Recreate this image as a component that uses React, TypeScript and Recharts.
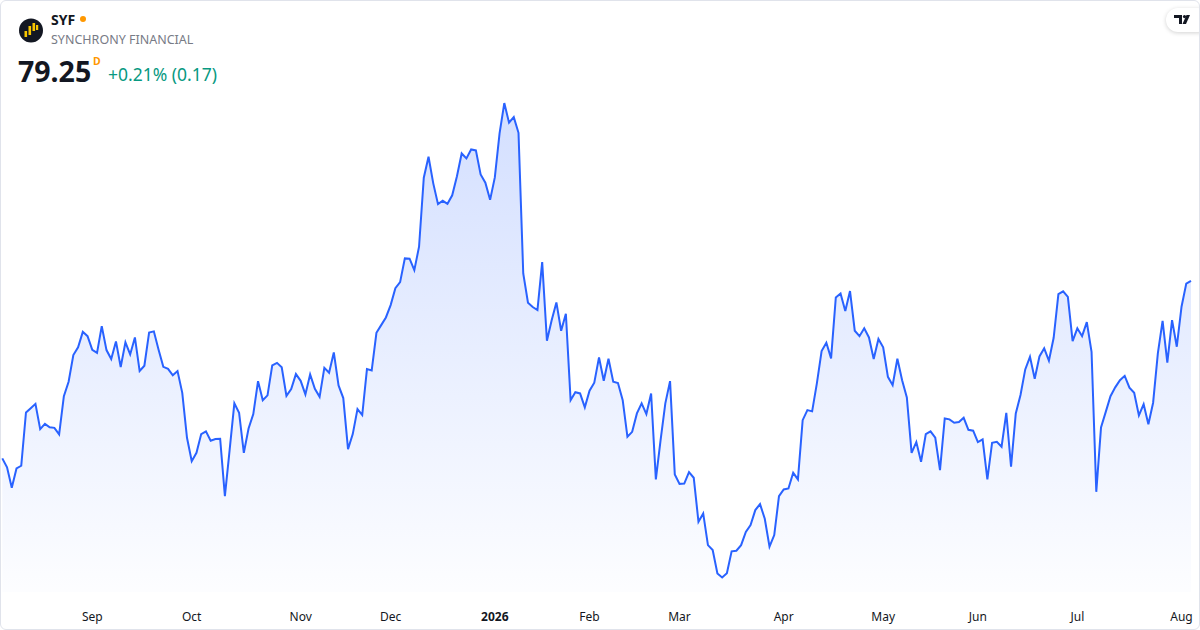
import React from "react";
import { AreaChart, Area, XAxis, YAxis } from "recharts";

// SYF daily closes, Aug 5 2025 .. Aug 5 2026
const closes = [
  68.15, 67.59, 66.31, 67.52, 67.69, 71.02, 71.29, 71.56, 69.98, 70.31,
  70.09, 70.06, 69.65, 72.04, 72.94, 74.61, 75.09, 76.06, 75.79, 74.94,
  74.75, 76.42, 74.92, 74.36, 75.46, 73.86, 75.4, 74.65, 75.71, 73.61,
  73.94, 76.02, 76.09, 74.94, 73.87, 73.75, 73.34, 73.61, 72.25, 69.44,
  67.98, 68.5, 69.67, 69.84, 69.25, 69.36, 69.38, 65.79, 68.67, 71.59,
  71.0, 68.5, 70.02, 70.92, 72.98, 71.79, 72.09, 73.96, 74.12, 73.84,
  72.06, 72.48, 73.42, 73.0, 72.15, 73.4, 72.5, 72.0, 73.81, 73.5,
  74.77, 72.71, 71.92, 68.73, 69.67, 71.23, 70.86, 73.73, 73.65, 76.0,
  76.48, 76.96, 77.73, 78.79, 79.17, 80.65, 80.63, 79.92, 81.38, 85.69,
  87.0, 85.34, 84.04, 84.25, 84.06, 84.59, 85.79, 87.21, 86.9, 87.46,
  87.4, 85.9, 85.38, 84.31, 85.71, 88.46, 90.36, 89.13, 89.48, 88.5,
  79.71, 77.88, 77.61, 77.42, 80.42, 75.5, 76.79, 77.9, 76.13, 77.19,
  71.79, 72.29, 72.21, 71.34, 72.38, 72.88, 74.46, 73.0, 74.38, 72.94,
  72.86, 71.79, 69.5, 69.81, 70.96, 71.59, 70.92, 72.21, 66.84, 69.29,
  71.59, 72.98, 67.15, 66.56, 66.58, 67.29, 66.94, 64.19, 64.71, 62.73,
  62.42, 60.96, 60.71, 60.98, 62.34, 62.38, 62.73, 63.56, 63.98, 64.92,
  65.29, 64.38, 62.63, 63.36, 65.79, 66.21, 66.27, 67.25, 66.84, 70.54,
  71.17, 71.09, 72.84, 74.86, 75.38, 74.4, 78.21, 78.46, 77.36, 78.61,
  76.13, 75.79, 76.28, 75.71, 74.36, 75.61, 75.09, 73.25, 72.73, 74.38,
  73.04, 71.96, 68.5, 69.17, 67.94, 69.67, 69.84, 69.44, 67.42, 70.65,
  70.59, 70.38, 70.42, 70.69, 69.94, 69.88, 69.17, 69.34, 66.84, 69.13,
  69.19, 68.88, 71.0, 67.63, 70.96, 72.11, 73.71, 74.5, 73.13, 74.52,
  75.03, 74.25, 75.69, 78.42, 78.59, 78.25, 75.48, 76.28, 75.79, 76.67,
  74.81, 66.06, 70.09, 71.06, 72.04, 72.59, 73.04, 73.31, 72.57, 72.25,
  70.84, 71.54, 70.29, 71.63, 74.71, 76.75, 74.13, 76.79, 75.13, 77.63,
  79.08, 79.25,
];

// session index of the first trading day of each month
const tickIndex = [19, 40, 63, 82, 104, 124, 143, 165, 186, 206, 227, 249];
const tickLabels = ["Sep", "Oct", "Nov", "Dec", "2026", "Feb", "Mar", "Apr", "May", "Jun", "Jul", "Aug"];

const priceDomain = [59.8, 96.8];

const data = closes.map((c, i) => ({ i, close: c }));

const FONT = "'Noto Sans', Roboto, sans-serif";

const MonthTick = ({ x, y, payload }: any) => {
  const label = tickLabels[tickIndex.indexOf(payload.value)];
  return (
    <text
      x={x}
      y={y}
      dy={21}
      textAnchor="middle"
      fill="#131722"
      fontSize={12}
      fontFamily={FONT}
      fontWeight={label === "2026" ? 700 : 400}
    >
      {label}
    </text>
  );
};

export default function App() {
  return (
    <div
      style={{
        position: "relative",
        width: 1200,
        height: 630,
        background: "#fff",
        fontFamily: FONT,
        overflow: "hidden",
      }}
    >
      <style>{"body{margin:0}"}</style>

      <AreaChart
        width={1200}
        height={630}
        data={data}
        margin={{ top: 0, right: 9, bottom: 0, left: 2.3 }}
        style={{ position: "absolute", left: 0, top: 0 }}
      >
        <defs>
          <linearGradient id="syfFill" x1="0" y1="0" x2="0" y2="1">
            <stop offset="0%" stopColor="#2962FF" stopOpacity={0.34} />
            <stop offset="100%" stopColor="#2962FF" stopOpacity={0.02} />
          </linearGradient>
        </defs>
        <XAxis
          dataKey="i"
          type="number"
          domain={[0, closes.length - 1]}
          ticks={tickIndex}
          tick={<MonthTick />}
          tickLine={false}
          axisLine={false}
          height={38}
          interval={0}
        />
        <YAxis hide domain={priceDomain} />
        <Area
          type="linear"
          dataKey="close"
          stroke="#2962FF"
          strokeWidth={2}
          fill="url(#syfFill)"
          dot={false}
          activeDot={false}
          isAnimationActive={false}
        />
      </AreaChart>

      {/* header */}
      <svg width={40} height={40} style={{ position: "absolute", left: 11, top: 10 }}>
        <circle cx={20} cy={20.5} r={12} fill="#131722" />
        <rect x={13.5} y={21} width={2.6} height={6} fill="#f7c600" />
        <rect x={17.5} y={16} width={2.6} height={9} fill="#f7c600" />
        <rect x={21.5} y={13} width={2.6} height={8} fill="#f7c600" />
        <rect x={25} y={15} width={2.2} height={5} fill="#f7c600" />
      </svg>
      <div
        style={{
          position: "absolute",
          left: 51,
          top: 10,
          fontSize: 14,
          fontWeight: 700,
          color: "#131722",
          lineHeight: "20px",
        }}
      >
        SYF
        <span
          style={{
            display: "inline-block",
            width: 6,
            height: 6,
            borderRadius: 3,
            background: "#ff9800",
            marginLeft: 5,
            verticalAlign: "middle",
            position: "relative",
            top: -2,
          }}
        />
      </div>
      <div
        style={{
          position: "absolute",
          left: 51,
          top: 31,
          fontSize: 12.5,
          color: "#787b86",
          lineHeight: "18px",
        }}
      >
        SYNCHRONY FINANCIAL
      </div>
      <div
        style={{
          position: "absolute",
          left: 18,
          top: 53,
          fontSize: 28.5,
          fontWeight: 700,
          color: "#131722",
          lineHeight: "36px",
        }}
      >
        79.25
      </div>
      <div
        style={{
          position: "absolute",
          left: 93,
          top: 54,
          fontSize: 10.5,
          fontWeight: 700,
          color: "#ff9800",
          lineHeight: "14px",
        }}
      >
        D
      </div>
      <div
        style={{
          position: "absolute",
          left: 108,
          top: 61,
          fontSize: 17.5,
          color: "#089981",
          lineHeight: "26px",
        }}
      >
        +0.21% (0.17)
      </div>

      {/* TradingView badge */}
      <div
        style={{
          position: "absolute",
          left: 1166,
          top: 8,
          width: 44,
          height: 24,
          borderRadius: 12,
          background: "#fff",
          boxShadow: "0 1px 4px rgba(0,0,0,0.18)",
        }}
      >
        <svg width={20} height={10} style={{ position: "absolute", left: 8, top: 7 }}>
          <path d="M0 0H8V9H5V3H0Z" fill="#131722" />
          <circle cx={10.5} cy={1.6} r={1.6} fill="#131722" />
          <path d="M12.5 0H16L12 9H8.5Z" fill="#131722" />
        </svg>
      </div>

      {/* card border */}
      <div
        style={{
          position: "absolute",
          inset: 0,
          border: "1px solid #e0e3eb",
          borderRadius: 6,
          pointerEvents: "none",
        }}
      />
    </div>
  );
}
